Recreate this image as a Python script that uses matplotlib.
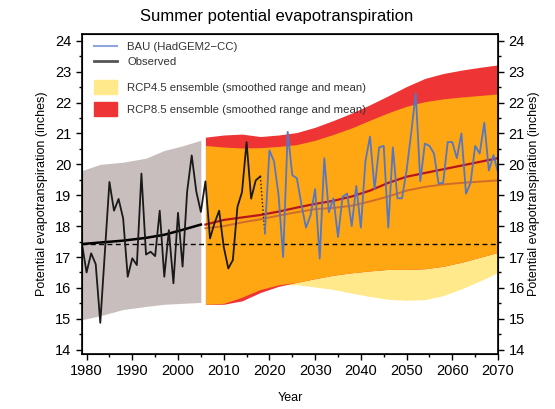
import matplotlib
matplotlib.use('Agg')
import matplotlib.pyplot as plt
import matplotlib.patches as mpatches
from matplotlib.lines import Line2D
from matplotlib.ticker import MultipleLocator

plt.rcParams['font.family'] = ['Liberation Sans', 'DejaVu Sans']

# observed summer PET (inches)
obs_years = list(range(1979, 2019))
obs_vals = [17.42, 16.5, 17.12, 16.77, 14.87, 17.15, 19.43, 18.5, 18.88, 18.25,
            16.36, 16.96, 16.74, 19.7, 17.08, 17.17, 17.03, 18.5, 16.36, 17.87,
            16.15, 18.43, 16.69, 19.12, 20.29, 19.12, 18.46, 19.45, 17.6, 18.1,
            18.5, 17.33, 16.63, 16.9, 18.62, 19.1, 20.72, 18.89, 19.48, 19.61]

# observed smoothed trend and range
obs_env_years = [1979, 1983, 1988, 1993, 1997, 2001, 2005]
obs_trend = [17.42, 17.47, 17.53, 17.62, 17.72, 17.88, 18.05]
obs_hi = [19.8, 20.0, 20.07, 20.2, 20.45, 20.6, 20.78]
obs_lo = [14.97, 15.1, 15.3, 15.4, 15.47, 15.5, 15.53]

# BAU model run (HadGEM2-CC)
bau_years = list(range(2019, 2071))
bau_vals = [17.76, 20.45, 20.1, 19.0, 17.0, 21.05, 19.65, 19.55, 18.7, 17.95,
            18.35, 19.2, 16.95, 20.2, 18.45, 18.9, 17.65, 18.95, 19.05, 18.0,
            19.3, 17.95, 20.1, 20.9, 19.2, 20.55, 20.6, 17.95, 20.55, 18.9,
            18.9, 19.8, 21.0, 22.3, 19.45, 20.67, 20.6, 20.35, 19.38, 19.4,
            20.72, 20.72, 20.2, 21.0, 19.05, 19.4, 20.6, 20.35, 21.35, 19.8,
            20.3, 19.75]

# ensemble ranges and means
ens_years = [2006, 2010, 2014, 2018, 2022, 2026, 2030, 2034, 2038, 2042, 2046,
             2050, 2054, 2058, 2062, 2066, 2070]
hi45 = [20.61, 20.56, 20.53, 20.54, 20.58, 20.64, 20.78, 20.97, 21.18, 21.43,
        21.67, 21.88, 22.03, 22.12, 22.18, 22.23, 22.28]
lo45 = [15.47, 15.5, 15.7, 15.95, 16.1, 16.1, 16.03, 15.95, 15.83, 15.72,
        15.63, 15.6, 15.62, 15.75, 15.97, 16.22, 16.5]
mean45 = [17.93, 18.0, 18.12, 18.22, 18.34, 18.45, 18.55, 18.59, 18.66, 18.8,
          18.96, 19.15, 19.27, 19.35, 19.4, 19.44, 19.48]
hi85 = [20.88, 20.95, 20.98, 20.9, 20.95, 21.03, 21.2, 21.42, 21.66, 21.93,
        22.22, 22.52, 22.78, 22.94, 23.05, 23.14, 23.22]
lo85 = [15.47, 15.47, 15.58, 15.85, 16.05, 16.18, 16.3, 16.41, 16.49, 16.55,
        16.6, 16.6, 16.62, 16.7, 16.83, 16.99, 17.15]
mean85 = [18.05, 18.2, 18.28, 18.36, 18.47, 18.6, 18.72, 18.82, 18.96, 19.15,
          19.4, 19.6, 19.72, 19.84, 19.96, 20.08, 20.2]

baseline = 17.42

c_grey = '#c9bebe'
c_yellow = '#ffe98a'
c_red = '#ee3434'
c_orange = '#ffa712'

fig = plt.figure(figsize=(5.55, 4.09), dpi=100)
ax = fig.add_axes([82 / 555, 55 / 409, 416 / 555, 320 / 409])

# observed range
ax.fill_between(obs_env_years, obs_lo, obs_hi, color=c_grey, lw=0)

# ensemble ranges: overlap shown in orange
ax.fill_between(ens_years, lo45, hi45, color=c_yellow, lw=0)
ax.fill_between(ens_years, lo85, hi85, color=c_red, lw=0)
ov_lo = [max(a, b) for a, b in zip(lo45, lo85)]
ov_hi = [min(a, b) for a, b in zip(hi45, hi85)]
ax.fill_between(ens_years, ov_lo, ov_hi, color=c_orange, lw=0)

ax.plot(ens_years, mean45, color='#cf6c2a', lw=1.4)
ax.plot(ens_years, mean85, color='#b8161c', lw=1.6)

ax.axhline(baseline, color='black', lw=1.0, ls=(0, (3.5, 2.5)))

ax.plot(obs_env_years, obs_trend, color='black', lw=1.8)
ax.plot(obs_years, obs_vals, color='#1a1a1a', lw=1.3)
ax.plot([obs_years[-1], bau_years[0]], [obs_vals[-1], bau_vals[0]],
        color='#1a1a1a', lw=1.0, ls=':')
ax.plot(bau_years, bau_vals, color='#5577c4', lw=1.3)

ax.set_xlim(1979, 2070)
ax.set_ylim(13.86, 24.22)
ax.xaxis.set_major_locator(MultipleLocator(10))
ax.xaxis.set_minor_locator(MultipleLocator(5))
ax.yaxis.set_major_locator(MultipleLocator(1))
ax.yaxis.set_minor_locator(MultipleLocator(0.5))
ax.tick_params(which='both', direction='out', labelsize=10.5, width=1.0)
ax.tick_params(which='major', length=4)
ax.tick_params(which='minor', length=2.5)
for s in ax.spines.values():
    s.set_linewidth(1.2)

ax2 = ax.twinx()
ax2.set_ylim(ax.get_ylim())
ax2.yaxis.set_major_locator(MultipleLocator(1))
ax2.yaxis.set_minor_locator(MultipleLocator(0.5))
ax2.tick_params(which='both', direction='out', labelsize=10.5, width=1.0)
ax2.tick_params(which='major', length=4)
ax2.tick_params(which='minor', length=2.5)

ax.set_xlabel('Year', fontsize=9, labelpad=10)
ax.set_ylabel('Potential evapotranspiration (inches)', fontsize=9, labelpad=5)
ax2.set_ylabel('Potential evapotranspiration (inches)', fontsize=9, labelpad=2)
fig.text(277 / 555, 1 - 17 / 409, 'Summer potential evapotranspiration',
         ha='center', va='center', fontsize=12)

line_handles = [Line2D([], [], color='#8ea6dc', lw=1.5),
                Line2D([], [], color='#555555', lw=2)]
leg1 = ax.legend(line_handles, ['BAU (HadGEM2\u2212CC)', 'Observed'],
                 loc='upper left', bbox_to_anchor=(0.01, 1.0), frameon=False,
                 fontsize=8.2, handlelength=2.0, labelspacing=0.4,
                 handletextpad=0.9, borderaxespad=0.3)
for t in leg1.get_texts():
    t.set_color('#333333')
ax.add_artist(leg1)
patch_handles = [mpatches.Patch(color=c_yellow), mpatches.Patch(color=c_red)]
leg2 = ax.legend(patch_handles, ['RCP4.5 ensemble (smoothed range and mean)',
                                 'RCP8.5 ensemble (smoothed range and mean)'],
                 loc='upper left', bbox_to_anchor=(0.01, 0.88), frameon=False,
                 fontsize=8.2, handlelength=2.0, handleheight=1.45, labelspacing=0.75,
                 handletextpad=0.9, borderaxespad=0.3)
for t in leg2.get_texts():
    t.set_color('#333333')

fig.savefig('out.png', dpi=100)
